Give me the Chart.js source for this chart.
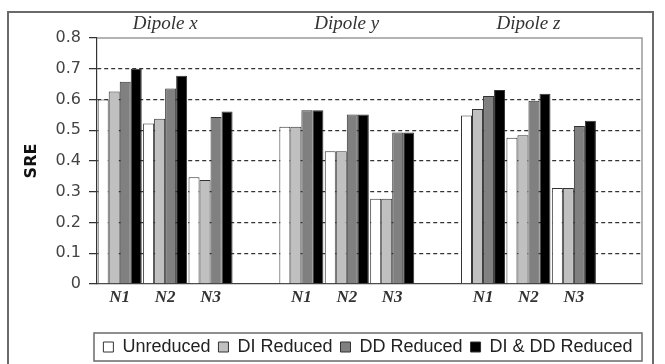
<!DOCTYPE html>
<html>
<head>
<meta charset="utf-8">
<script src="https://cdn.jsdelivr.net/npm/chart.js@4/dist/chart.umd.min.js"></script>
<style>
  html, body { margin: 0; padding: 0; background: #fff; }
  canvas { display: block; }
</style>
</head>
<body>
<canvas id="c" width="665" height="364"></canvas>
<script>
// ---- data ----
const categories  = ['N1', 'N2', 'N3', '', 'N1', 'N2', 'N3', '', 'N1', 'N2', 'N3', ''];
const groupLabels = ['', 'Dipole x', '', '', '', 'Dipole y', '', '', '', 'Dipole z', '', ''];
const seriesNames = ['Unreduced', 'DI Reduced', 'DD Reduced', 'DI & DD Reduced'];
const unreduced   = [0.600, 0.522, 0.347, null, 0.511, 0.432, 0.277, null, 0.548, 0.476, 0.312, null];
const diReduced   = [0.626, 0.537, 0.338, null, 0.511, 0.432, 0.277, null, 0.569, 0.484, 0.312, null];
const ddReduced   = [0.658, 0.636, 0.543, null, 0.565, 0.551, 0.493, null, 0.611, 0.596, 0.514, null];
const diddReduced = [0.700, 0.677, 0.561, null, 0.565, 0.551, 0.493, null, 0.631, 0.619, 0.531, null];
const yTickLabels = ['0', '0.1', '0.2', '0.3', '0.4', '0.5', '0.6', '0.7', '0.8'];
const yTitle = 'SRE';

const fills = ['#ffffff', '#c0c0c0', '#808080', '#000000'];
const seriesValues = [unreduced, diReduced, ddReduced, diddReduced];

const decorPlugin = {
  id: 'decor',
  beforeDraw(chart) {
    const ctx = chart.ctx;
    ctx.save();
    ctx.fillStyle = '#fff';
    ctx.fillRect(0, 0, chart.width, chart.height);
    ctx.restore();
  },
  afterLayout(chart) {
    const a = chart.chartArea;
    const L = chart.legend;
    const h = L.height;
    L.left = a.left - 3;
    L.right = a.right;
    L.width = L.right - L.left;
    L.top = 330;
    L.bottom = L.top + h;
  },
  afterDraw(chart) {
    const ctx = chart.ctx;
    const a = chart.chartArea;
    ctx.save();
    // plot area top & right border
    ctx.strokeStyle = '#9a9a9a';
    ctx.lineWidth = 1.5;
    ctx.beginPath();
    ctx.moveTo(a.left, a.top);
    ctx.lineTo(a.right, a.top);
    ctx.lineTo(a.right, a.bottom);
    ctx.stroke();
    // legend frame
    ctx.strokeStyle = '#6a6a6a';
    ctx.lineWidth = 1.5;
    ctx.strokeRect(a.left - 3, 333, a.right - a.left + 3, 28);
    // outer frame
    ctx.strokeStyle = '#6a6a6a';
    ctx.lineWidth = 2;
    ctx.strokeRect(8, 12, 645, 360);
    ctx.restore();
  }
};

new Chart(document.getElementById('c'), {
  type: 'bar',
  data: {
    labels: categories,
    datasets: seriesNames.map((name, i) => ({
      label: name,
      data: seriesValues[i],
      backgroundColor: fills[i],
      borderColor: '#333',
      borderWidth: 1,
      borderSkipped: 'bottom',
      categoryPercentage: 0.97,
      barPercentage: 1.0
    }))
  },
  options: {
    responsive: false,
    animation: false,
    devicePixelRatio: 1,
    layout: { padding: { left: 0, right: 23, top: 0, bottom: 0 }, autoPadding: false },
    plugins: {
      tooltip: { enabled: false },
      legend: {
        position: 'bottom',
        labels: {
          boxWidth: 10,
          boxHeight: 10,
          padding: 8,
          color: '#222',
          font: { family: 'Liberation Sans', size: 18 }
        }
      }
    },
    scales: {
      x: {
        type: 'category',
        position: 'bottom',
        offset: true,
        grid: { display: false, drawTicks: false, offset: true },
        border: { display: true, color: '#444', width: 1.2 },
        ticks: {
          padding: 3,
          color: '#333',
          autoSkip: false,
          maxRotation: 0,
          font: { family: 'Liberation Serif', style: 'italic', weight: 'bold', size: 17 }
        },
        afterFit(s) { s.height = 364 - 284 - s.chart.legend.height; }
      },
      xTop: {
        type: 'category',
        position: 'top',
        labels: groupLabels,
        offset: true,
        grid: { display: false, drawTicks: false },
        border: { display: false },
        ticks: {
          padding: 3,
          color: '#333',
          autoSkip: false,
          maxRotation: 0,
          font: { family: 'Liberation Serif', style: 'italic', size: 19 }
        },
        afterFit(s) { s.height = 38; }
      },
      y: {
        min: 0,
        max: 0.8,
        ticks: {
          stepSize: 0.1,
          padding: 8,
          color: '#444',
          font: { family: 'DejaVu Sans', size: 16 },
          callback: (v, i) => yTickLabels[i]
        },
        grid: {
          color: (ctx) => (ctx.index === 0 || ctx.index === yTickLabels.length - 1) ? 'rgba(0,0,0,0)' : '#333',
          lineWidth: 1.3,
          drawTicks: true,
          tickLength: 8,
          tickColor: '#333',
          tickWidth: 1.2,
          tickBorderDash: [1, 0]
        },
        border: { display: true, color: '#333', width: 1.2, dash: [4, 3] },
        title: {
          display: true,
          text: yTitle,
          color: '#111',
          padding: { top: 22, bottom: 0 },
          font: { family: 'DejaVu Sans', weight: 'bold', size: 16 }
        },
        afterFit(s) { s.width = 97; }
      }
    }
  },
  plugins: [decorPlugin]
});
</script>
</body>
</html>
